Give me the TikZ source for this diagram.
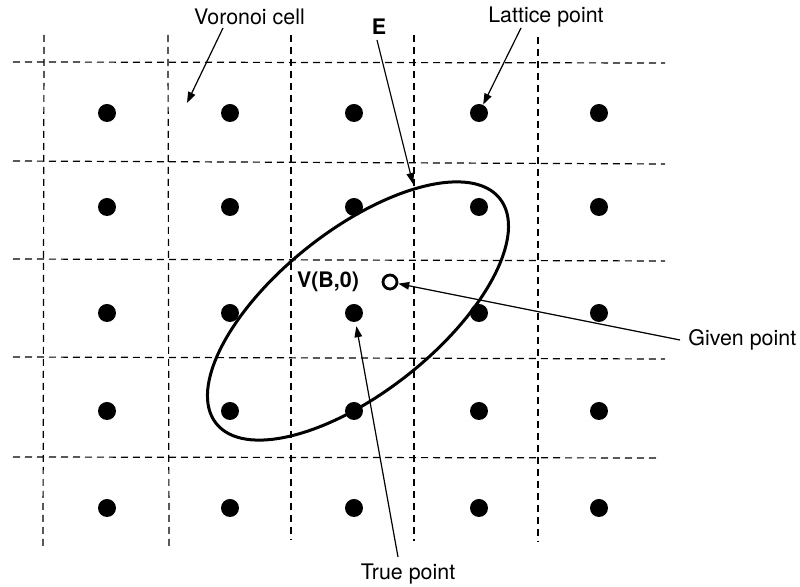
\documentclass[tikz,border=0pt]{standalone}
\usepackage{fontspec}
\setmainfont{TeX Gyre Heros}
\usetikzlibrary{arrows.meta}
\begin{document}
\begin{tikzpicture}[x=0.5pt,y=-0.5pt,
  gridline/.style={dash pattern=on 3.5pt off 2.5pt, line width=0.6pt, black},
  dot/.style={circle, fill=black, inner sep=0pt, minimum size=9pt},
  given/.style={circle, draw=black, line width=1.4pt, fill=white, inner sep=0pt, minimum size=7pt},
  arr/.style={line width=0.6pt, -{Triangle[length=5.5pt,width=3.8pt]}},
  lbl/.style={inner sep=0pt, font=\fontsize{10.7}{12}\selectfont},
  blbl/.style={inner sep=0pt, font=\fontsize{10.7}{12}\selectfont\bfseries}]
\useasboundingbox (0,0) rectangle (800,587);
% grid
\draw[gridline] (13,62) -- (665,63);
\draw[gridline] (13,161) -- (665,164);
\draw[gridline] (13,259) -- (665,261);
\draw[gridline] (13,357) -- (665,359);
\draw[gridline] (13,457) -- (657,458);
\draw[gridline] (44,35) -- (43,547);
\draw[gridline] (168,35) -- (169,547);
\draw[gridline] (291,35) -- (291,540);
\draw[gridline] (414,35) -- (414,541);
\draw[gridline] (538,37) -- (538,542);
% lattice points
\foreach \y [count=\r] in {113,207,313,411,508}{
  \foreach \x [count=\c] in {107,230,354,479,599}{
    \node[dot] (d-\r-\c) at (\x,\y) {};
  }
}
% ellipse
\coordinate (ec) at (358,311);
\draw[line width=1.5pt, rotate around={38.4:(ec)}] (ec) ellipse [x radius=181, y radius=81];
\coordinate (etip) at (413,184);
\coordinate (vtip) at (187,103);
% given point
\node[given] (gp) at (390,282) {};
% labels
\node[lbl] (vc) at (249.5,17) {Voronoi cell};
\node[lbl] (lp) at (546,17) {Lattice point};
\node[blbl] (E) at (379,27) {E};
\node[blbl] (V) at (328,282) {V(B,0)};
\node[lbl, anchor=west] (gpl) at (688,340) {Given point};
\node[lbl] (tp) at (408,574) {True point};
% arrows
\draw[arr] ([shift={(-26.5,11)}]vc.center) -- (vtip);
\draw[arr] ([shift={(-25,11)}]lp.center) -- (d-1-4);
\draw[arr] ([shift={(-2,13)}]E.center) -- (etip);
\draw[arr] ([xshift=-4pt]gpl.west) -- (gp);
\draw[arr, shorten >=2pt] ([shift={(-10,-17)}]tp.center) -- (d-3-3);
\end{tikzpicture}
\end{document}
